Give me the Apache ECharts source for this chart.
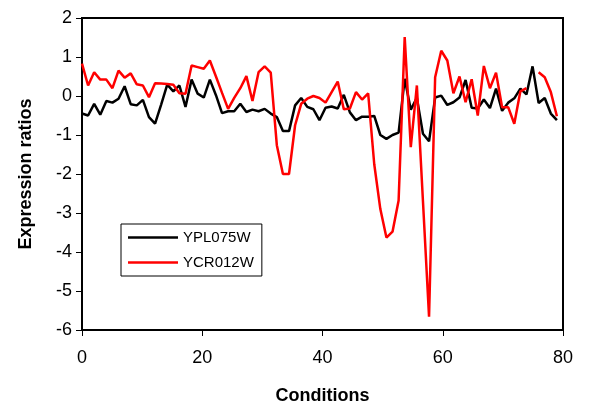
<!DOCTYPE html>
<html>
<head>
<meta charset="utf-8">
<script src="https://cdn.jsdelivr.net/npm/echarts@6/dist/echarts.min.js"></script>
<style>
  html, body { margin: 0; padding: 0; background: #fff; }
  #chart { width: 594px; height: 415px; }
</style>
</head>
<body>
<div id="chart"></div>
<script>
// expression ratios per condition
const ypl075w = [
  -0.45, -0.5, -0.2, -0.48, -0.13, -0.17, -0.07, 0.25, -0.21, -0.24,
  -0.1, -0.54, -0.71, -0.22, 0.29, 0.12, 0.27, -0.28, 0.42, 0.06,
  -0.04, 0.42, 0.02, -0.44, -0.39, -0.39, -0.2, -0.41, -0.35, -0.39,
  -0.33, -0.45, -0.54, -0.9, -0.9, -0.24, -0.05, -0.28, -0.34, -0.62,
  -0.3, -0.27, -0.32, 0.03, -0.42, -0.62, -0.53, -0.53, -0.51, -1.0,
  -1.1, -1.0, -0.94, 0.44, -0.35, -0.05, -0.97, -1.16, -0.04, 0.01,
  -0.23, -0.16, -0.04, 0.41, -0.3, -0.32, -0.09, -0.31, 0.19, -0.38,
  -0.17, -0.06, 0.19, 0.04, 0.76, -0.18, -0.05, -0.45, -0.62
];
const ycr012w = [
  0.83, 0.27, 0.61, 0.42, 0.42, 0.2, 0.65, 0.47, 0.58, 0.3,
  0.27, -0.03, 0.33, 0.32, 0.31, 0.29, 0.07, 0.06, 0.78, 0.74,
  0.7, 0.91, 0.5, 0.08, -0.33, -0.05, 0.2, 0.51, -0.13, 0.61,
  0.76, 0.6, -1.26, -2.0, -2.0, -0.75, -0.2, -0.07, 0.0, -0.05,
  -0.17, 0.1, 0.37, -0.34, -0.32, 0.1, -0.09, 0.07, -1.75, -2.9,
  -3.63, -3.48, -2.68, 1.51, -1.31, 0.27, -2.7, -5.66, 0.48, 1.16,
  0.91, 0.07, 0.5, -0.16, 0.43, -0.5, 0.77, 0.2, 0.6, -0.29,
  -0.29, -0.71, 0.12, 0.2, null, 0.61, 0.48, 0.1, -0.52
];
const conditions = ypl075w.map((_, i) => i);
const seriesNames = ["YPL075W", "YCR012W"];

const font = "'Liberation Sans', Arial, sans-serif";

const chart = echarts.init(document.getElementById("chart"));

const options = {
  animation: false,
  backgroundColor: "#fff",
  grid: {
    left: 82,
    right: 31,
    top: 18,
    bottom: 85,
    show: true,
    borderColor: "#000",
    borderWidth: 2,
  },
  legend: {
    orient: "vertical",
    left: 121,
    top: 224,
    padding: [6, 8, 6, 7],
    icon: "rect",
    itemWidth: 50,
    itemHeight: 2.5,
    itemGap: 10,
    borderColor: "#000",
    borderWidth: 1,
    backgroundColor: "#fff",
    textStyle: { fontFamily: font, fontSize: 15, color: "#000", lineHeight: 15 },
    data: seriesNames,
  },
  xAxis: [
    {
      type: "value",
      min: 0,
      max: 80,
      interval: 20,
      name: "Conditions",
      nameLocation: "middle",
      nameGap: 57,
      nameTextStyle: { fontFamily: font, fontSize: 18, fontWeight: "bold", color: "#000" },
      axisLine: { show: true, onZero: false, lineStyle: { color: "#000", width: 2 } },
      axisTick: { show: true, inside: false, length: 6, lineStyle: { color: "#000", width: 1 } },
      axisLabel: { fontFamily: font, fontSize: 18, color: "#000", margin: 19 },
      splitLine: { show: false },
    },
    {
      // positions the measurement points across the plot
      type: "value",
      min: 0,
      max: 79,
      show: false,
    },
  ],
  yAxis: {
    type: "value",
    min: -6,
    max: 2,
    interval: 1,
    name: "Expression ratios",
    nameLocation: "middle",
    nameGap: 47,
    nameTextStyle: { fontFamily: font, fontSize: 18, fontWeight: "bold", color: "#000" },
    axisLine: { show: true, onZero: false, lineStyle: { color: "#000", width: 2 } },
    axisTick: { show: true, inside: false, length: 6, lineStyle: { color: "#000", width: 1 } },
    axisLabel: { fontFamily: font, fontSize: 18, color: "#000", margin: 10 },
    splitLine: { show: false },
  },
  series: [
    {
      name: seriesNames[0],
      type: "line",
      xAxisIndex: 1,
      symbol: "none",
      lineStyle: { color: "#000", width: 2.5 },
      itemStyle: { color: "#000" },
      data: conditions.map((c, i) => [c, ypl075w[i]]),
    },
    {
      name: seriesNames[1],
      type: "line",
      xAxisIndex: 1,
      symbol: "none",
      connectNulls: false,
      lineStyle: { color: "#ff0000", width: 2.5 },
      itemStyle: { color: "#ff0000" },
      data: conditions.map((c, i) => [c, ycr012w[i]]),
    },
  ],
};

chart.setOption(options);

window.addEventListener("resize", () => {
  chart.resize();
});
</script>
</body>
</html>
